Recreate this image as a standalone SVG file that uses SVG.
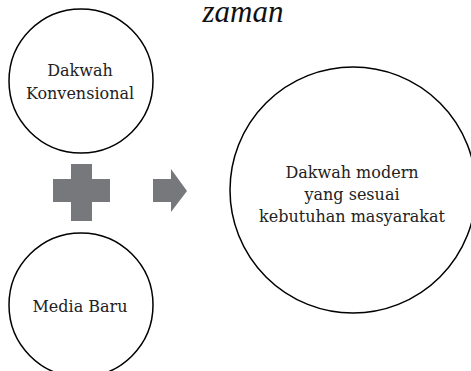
<svg xmlns="http://www.w3.org/2000/svg" width="471" height="371" viewBox="0 0 471 371">
<style>
.node{fill:#fff;stroke:#000;stroke-width:1.5}
.lbl{font-family:"DejaVu Serif","Liberation Serif",serif;font-size:16px;fill:#222;text-anchor:middle}
.shape{fill:#77787b}
</style>
<rect width="471" height="371" fill="#fff"/>
<text x="243" y="22" font-family="Liberation Serif, serif" font-style="italic" font-size="31" fill="#111" text-anchor="middle">zaman</text>
<g id="konvensional">
<circle class="node" cx="81" cy="81" r="72"/>
<text class="lbl" x="80" y="76">Dakwah</text>
<text class="lbl" x="80" y="98.5">Konvensional</text>
</g>
<g id="media-baru">
<circle class="node" cx="81" cy="305" r="72"/>
<text class="lbl" x="80" y="312">Media Baru</text>
</g>
<g id="dakwah-modern">
<circle class="node" cx="353" cy="190" r="123"/>
<text class="lbl" x="352" y="178">Dakwah modern</text>
<text class="lbl" x="352" y="200">yang sesuai</text>
<text class="lbl" x="352" y="222">kebutuhan masyarakat</text>
</g>
<g id="connectors">
<path class="shape" d="M71,164H92V179H110V202H92V221H71V202H53V179H71Z"/>
<path class="shape" d="M153,179H171V169L187,191L171,212V202H153Z"/>
</g>
</svg>
